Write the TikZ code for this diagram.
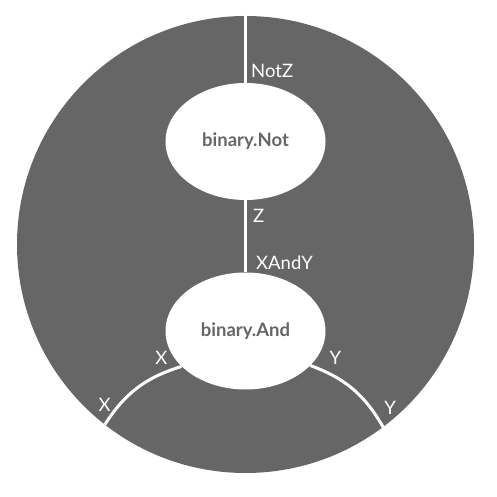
\documentclass[tikz,border=0pt]{standalone}
\usepackage{fontspec}
\setmainfont{Lato}
\usetikzlibrary{positioning,shapes.geometric}
\definecolor{bodygray}{HTML}{666666}
\begin{document}
\begin{tikzpicture}[x=1pt,y=1pt,inner sep=0pt,
  wire/.style={draw=white,line width=3pt},
  gate/.style={ellipse,fill=white,minimum width=160pt,minimum height=117pt,text=bodygray,font=\fontsize{18.5}{22}\selectfont\bfseries},
  lbl/.style={text=white,font=\fontsize{18.5}{22}\selectfont}]
\useasboundingbox (0,0) rectangle (496,497);
\node[circle,fill=bodygray,minimum size=457pt] (world) at (245.5,252.5) {};
\node[gate] (notnode) at (245.5,355.5) {binary.Not};
\node[gate] (andnode) at (245.5,166) {binary.And};
\coordinate (p1) at (world.north);
\coordinate (p2) at (world.232.5);
\coordinate (p3) at (world.307.5);
\draw[wire] (p1) -- (notnode.north);
\draw[wire] (notnode.south) -- (andnode.north);
\draw[wire] (andnode.209) to[bend right=20] (p2);
\draw[wire] (andnode.332) to[bend left=20] (p3);
\node[lbl,above right=5pt and 5.5pt of notnode.north] (lnotz) {NotZ};
\node[lbl,below right=9pt and 7.5pt of notnode.south] (lz) {Z};
\node[lbl,above right=2pt and 10.5pt of andnode.north] (lxandy) {XAndY};
\node[lbl,above left=2pt and 14pt of andnode.209] (lx1) {X};
\node[lbl,above right=1pt and 19pt of andnode.332] (ly1) {Y};
\node[lbl,above=13pt of p2] (lx2) {X};
\node[lbl,above right=12pt and 1pt of p3] (ly2) {Y};
\end{tikzpicture}
\end{document}
